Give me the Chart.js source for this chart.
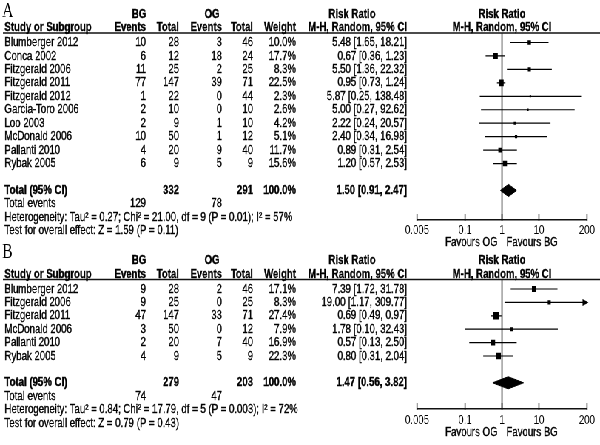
<!DOCTYPE html>
<html>
<head>
<meta charset="utf-8">
<script src="https://cdn.jsdelivr.net/npm/chart.js@4.4.0/dist/chart.umd.min.js"></script>
<style>
  html, body { margin: 0; padding: 0; background: #fff; overflow: hidden; }
  /* the source figure is horizontally squeezed, so draw wide and compress */
  #wrap { position: absolute; left: 0; top: 0; width: 811px; height: 445px;
          transform: scaleX(0.73983); transform-origin: 0 0; }
  #wrap canvas { position: absolute; left: 0; }
  #chart-a { top: 0; }
  #chart-b { top: 240px; }
</style>
</head>
<body>
<div id="wrap">
  <canvas id="chart-a" width="811" height="252"></canvas>
  <canvas id="chart-b" width="811" height="205"></canvas>
</div>
<script>
const AXIS_TICKS = [0.005, 0.1, 1, 10, 200];

// Panel A
const studiesA = ['Blumberger 2012', 'Conca 2002', 'Fitzgerald 2006', 'Fitzgerald 2011', 'Fitzgerald 2012',
                  'Garcia-Toro 2006', 'Loo 2003', 'McDonald 2006', 'Pallanti 2010', 'Rybak 2005'];
const bgEventsA = [10, 6, 11, 77, 1, 2, 2, 10, 4, 6];
const bgTotalA  = [28, 12, 25, 147, 22, 10, 9, 50, 20, 9];
const ogEventsA = [3, 18, 2, 39, 0, 0, 1, 1, 9, 5];
const ogTotalA  = [46, 24, 25, 71, 44, 10, 10, 12, 40, 9];
const weightA   = [10.0, 17.7, 8.3, 22.5, 2.3, 2.6, 4.2, 5.1, 11.7, 15.6];
const rrA       = [5.48, 0.67, 5.50, 0.95, 5.87, 5.00, 2.22, 2.40, 0.89, 1.20];
const loA       = [1.65, 0.36, 1.36, 0.73, 0.25, 0.27, 0.24, 0.34, 0.31, 0.57];
const hiA       = [18.21, 1.23, 22.32, 1.24, 138.48, 92.62, 20.57, 16.98, 2.54, 2.53];
const totalsA   = [332, 291];
const eventsA   = [129, 78];
const pooledA   = [1.50, 0.91, 2.47];
const hetA  = 'Heterogeneity: Tau\u00b2 = 0.27; Chi\u00b2 = 21.00, df = 9 (P = 0.01); I\u00b2 = 57%';
const testA = 'Test for overall effect: Z = 1.59 (P = 0.11)';

// Panel B
const studiesB = ['Blumberger 2012', 'Fitzgerald 2006', 'Fitzgerald 2011', 'McDonald 2006', 'Pallanti 2010', 'Rybak 2005'];
const bgEventsB = [9, 9, 47, 3, 2, 4];
const bgTotalB  = [28, 25, 147, 50, 20, 9];
const ogEventsB = [2, 0, 33, 0, 7, 5];
const ogTotalB  = [46, 25, 71, 12, 40, 9];
const weightB   = [17.1, 8.3, 27.4, 7.9, 16.9, 22.3];
const rrB       = [7.39, 19.00, 0.69, 1.78, 0.57, 0.80];
const loB       = [1.72, 1.17, 0.49, 0.10, 0.13, 0.31];
const hiB       = [31.78, 309.77, 0.97, 32.43, 2.50, 2.04];
const totalsB   = [279, 203];
const eventsB   = [74, 47];
const pooledB   = [1.47, 0.56, 3.82];
const hetB  = 'Heterogeneity: Tau\u00b2 = 0.84; Chi\u00b2 = 17.79, df = 5 (P = 0.003); I\u00b2 = 72%';
const testB = 'Test for overall effect: Z = 0.79 (P = 0.43)';

const SX = 600 / 811;            // horizontal squeeze applied to the wrapper
const W = 811;
const FONT = '"Liberation Sans", Arial, Helvetica, sans-serif';
const FONT_SIZE = 13;
const INK = '#000';
// column anchors, in screen pixels
const COL_PX = { study: 4.5, bgHead: 139, ogHead: 212, bgEv: 146, bgTot: 179, ogEv: 222, ogTot: 253,
                 weight: 296, rrHead: 352, rr: 407 };
const COL = Object.fromEntries(Object.entries(COL_PX).map(([k, v]) => [k, v / SX]));
const PLOT_LEFT = 417 / SX, PLOT_RIGHT = 587 / SX;
const DIAMOND_HALF = 0.45;

function txt(ctx, s, x, y, align, bold) {
  ctx.font = (bold ? 'bold ' : '') + FONT_SIZE + 'px ' + FONT;
  ctx.textAlign = align;
  ctx.fillText(s, x, y);
  // a hair of stroke so the squeezed glyphs keep the weight of the scan
  ctx.strokeText(s, x, y);
}

function fmtRR(rr, lo, hi) {
  return rr.toFixed(2) + ' [' + lo.toFixed(2) + ', ' + hi.toFixed(2) + ']';
}

function makePanel(id, d, lay) {
  const n = d.studies.length;
  const yMin = -(lay.firstRow - lay.lineY) / lay.step;
  const yMax = yMin + (lay.axisY - lay.lineY) / lay.step;
  const totalRow = n + 1;

  const ciSets = d.rr.map((v, i) => ({
    data: [{x: d.lo[i], y: i}, {x: d.hi[i], y: i}],
    borderColor: '#000', borderWidth: 1.2, pointRadius: 0, fill: false
  }));
  const pointSet = {
    data: d.rr.map((v, i) => ({x: v, y: i})),
    showLine: false,
    pointStyle: 'rect',
    pointRadius: d.weight.map(w => Math.max(1.4, 1.0 * Math.sqrt(w))),
    pointBackgroundColor: '#000', pointBorderWidth: 0
  };
  const [pRR, pLo, pHi] = d.pooled;
  const diamondTop = {
    data: [{x: pLo, y: totalRow}, {x: pRR, y: totalRow - DIAMOND_HALF}, {x: pHi, y: totalRow}],
    borderColor: '#000', borderWidth: 1, pointRadius: 0, fill: false
  };
  const diamondBottom = {
    data: [{x: pLo, y: totalRow}, {x: pRR, y: totalRow + DIAMOND_HALF}, {x: pHi, y: totalRow}],
    borderColor: '#000', borderWidth: 1, pointRadius: 0,
    fill: '-1', backgroundColor: '#000'
  };

  const tablePlugin = {
    id: 'table' + id,
    beforeDatasetsDraw(chart) {
      const {ctx, chartArea: a, scales: {x}} = chart;
      ctx.save();
      ctx.strokeStyle = '#111';
      ctx.lineWidth = 1.6;
      ctx.beginPath(); ctx.moveTo(4, a.top); ctx.lineTo(chart.width, a.top); ctx.stroke();
      const x1 = x.getPixelForValue(1);
      ctx.lineWidth = 1.6;
      ctx.beginPath(); ctx.moveTo(x1, a.top); ctx.lineTo(x1, a.bottom); ctx.stroke();
      ctx.lineWidth = 1.5;
      AXIS_TICKS.forEach(v => {
        const px = x.getPixelForValue(v);
        ctx.beginPath(); ctx.moveTo(px, a.bottom - 6); ctx.lineTo(px, a.bottom + 1); ctx.stroke();
      });
      ctx.restore();
    },
    afterDraw(chart) {
      const {ctx, chartArea: a, scales: {x, y}} = chart;
      ctx.save();
      ctx.fillStyle = INK;
      ctx.strokeStyle = INK;
      ctx.lineWidth = 0.35;
      // arrows for intervals running off the scale
      d.hi.forEach((h, i) => {
        if (h > x.max) {
          const py = y.getPixelForValue(i), px = a.right + 2;
          ctx.beginPath(); ctx.moveTo(px, py); ctx.lineTo(px - 8, py - 3.5); ctx.lineTo(px - 8, py + 3.5);
          ctx.closePath(); ctx.fill();
        }
      });
      // panel letter
      ctx.font = '21px "Liberation Serif", "Times New Roman", serif';
      ctx.textAlign = 'left';
      ctx.textBaseline = 'alphabetic';
      ctx.fillText(lay.letter, 3, lay.letterY);

      ctx.textBaseline = 'middle';
      const h1 = a.top - 19, h2 = a.top - 5.5;
      const xMid = (a.left + a.right) / 2;
      txt(ctx, 'BG', COL.bgHead, h1, 'center', true);
      txt(ctx, 'OG', COL.ogHead, h1, 'center', true);
      txt(ctx, 'Risk Ratio', COL.rrHead, h1, 'center', true);
      txt(ctx, 'Risk Ratio', xMid, h1, 'center', true);
      txt(ctx, 'Study or Subgroup', COL.study, h2, 'left', true);
      txt(ctx, 'Events', COL.bgEv, h2, 'right', true);
      txt(ctx, 'Total', COL.bgTot, h2, 'right', true);
      txt(ctx, 'Events', COL.ogEv, h2, 'right', true);
      txt(ctx, 'Total', COL.ogTot, h2, 'right', true);
      txt(ctx, 'Weight', COL.weight, h2, 'right', true);
      txt(ctx, 'M-H, Random, 95% CI', COL.rr, h2, 'right', true);
      txt(ctx, 'M-H, Random, 95% CI', xMid, h2, 'center', true);

      d.studies.forEach((s, i) => {
        const py = y.getPixelForValue(i);
        txt(ctx, s, COL.study, py, 'left');
        txt(ctx, String(d.bgEvents[i]), COL.bgEv, py, 'right');
        txt(ctx, String(d.bgTotal[i]), COL.bgTot, py, 'right');
        txt(ctx, String(d.ogEvents[i]), COL.ogEv, py, 'right');
        txt(ctx, String(d.ogTotal[i]), COL.ogTot, py, 'right');
        txt(ctx, d.weight[i].toFixed(1) + '%', COL.weight, py, 'right');
        txt(ctx, fmtRR(d.rr[i], d.lo[i], d.hi[i]), COL.rr, py, 'right');
      });

      let py = y.getPixelForValue(totalRow);
      txt(ctx, 'Total (95% CI)', COL.study, py, 'left', true);
      txt(ctx, String(d.totals[0]), COL.bgTot, py, 'right', true);
      txt(ctx, String(d.totals[1]), COL.ogTot, py, 'right', true);
      txt(ctx, '100.0%', COL.weight, py, 'right', true);
      txt(ctx, fmtRR(pRR, pLo, pHi), COL.rr, py, 'right', true);
      py = y.getPixelForValue(totalRow + 1);
      txt(ctx, 'Total events', COL.study, py, 'left');
      txt(ctx, String(d.events[0]), COL.bgEv, py, 'right');
      txt(ctx, String(d.events[1]), COL.ogEv, py, 'right');
      txt(ctx, d.het, COL.study, y.getPixelForValue(totalRow + 2), 'left');
      txt(ctx, d.test, COL.study, y.getPixelForValue(totalRow + 3), 'left');

      const x1 = x.getPixelForValue(1);
      const fy = a.bottom + lay.favoursGap;
      txt(ctx, 'Favours OG', x1 - 6, fy, 'right');
      txt(ctx, 'Favours BG', x1 + 6, fy, 'left');
      ctx.restore();
    }
  };

  return new Chart(document.getElementById(id), {
    type: 'line',
    data: { datasets: [...ciSets, pointSet, diamondTop, diamondBottom] },
    options: {
      responsive: false,
      animation: false,
      events: [],
      layout: {
        padding: { left: PLOT_LEFT, right: W - PLOT_RIGHT, top: lay.lineY,
                   bottom: lay.height - lay.axisY - 20 }
      },
      scales: {
        x: {
          type: 'logarithmic',
          min: AXIS_TICKS[0],
          max: AXIS_TICKS[AXIS_TICKS.length - 1],
          afterBuildTicks: s => { s.ticks = AXIS_TICKS.map(v => ({value: v})); },
          afterFit: s => { s.height = 20; },
          grid: { display: true, drawOnChartArea: false, drawTicks: false },
          border: { display: true, color: '#111', width: 1.5 },
          ticks: {
            color: INK, padding: lay.tickPad, autoSkip: false, maxRotation: 0,
            font: { family: FONT, size: FONT_SIZE },
            callback: v => String(v)
          }
        },
        y: { type: 'linear', display: false, reverse: true, min: yMin, max: yMax }
      },
      plugins: { legend: { display: false }, tooltip: { enabled: false } }
    },
    plugins: [tablePlugin]
  });
}

makePanel('chart-a', {
  studies: studiesA, bgEvents: bgEventsA, bgTotal: bgTotalA, ogEvents: ogEventsA, ogTotal: ogTotalA,
  weight: weightA, rr: rrA, lo: loA, hi: hiA, totals: totalsA, events: eventsA, pooled: pooledA,
  het: hetA, test: testA
}, { letter: 'A', letterY: 17, height: 252, lineY: 33, firstRow: 42.5, step: 13.45, axisY: 220,
     tickPad: 3, favoursGap: 22.5 });

makePanel('chart-b', {
  studies: studiesB, bgEvents: bgEventsB, bgTotal: bgTotalB, ogEvents: ogEventsB, ogTotal: ogTotalB,
  weight: weightB, rr: rrB, lo: loB, hi: hiB, totals: totalsB, events: eventsB, pooled: pooledB,
  het: hetB, test: testB
}, { letter: 'B', letterY: 18, height: 205, lineY: 39.5, firstRow: 49, step: 13.4, axisY: 169,
     tickPad: 4, favoursGap: 23 });
</script>
</body>
</html>
